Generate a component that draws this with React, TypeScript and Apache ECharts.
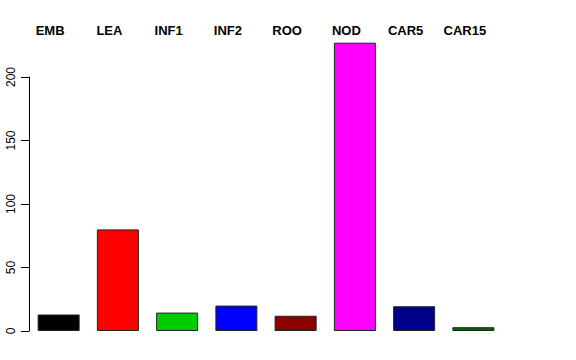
import React, { useEffect, useRef } from "react";
import * as echarts from "echarts";

const categories = ["EMB", "LEA", "INF1", "INF2", "ROO", "NOD", "CAR5", "CAR15"];
const values = [13, 80, 14.5, 20, 12, 227, 19.5, 3];
const colors = ["#000000", "#FF0000", "#00CD00", "#0000FF", "#8B0000", "#FF00FF", "#00008B", "#006400"];
const yTicks = [0, 50, 100, 150, 200];

export default function App() {
  const ref = useRef<HTMLDivElement>(null);
  useEffect(() => {
    if (!ref.current) return;
    const chart = echarts.init(ref.current, null, { renderer: "svg" });
    chart.setOption({
      animation: false,
      backgroundColor: "#ffffff",
      textStyle: { fontFamily: "Liberation Sans, Arial, sans-serif" },
      grid: { left: 29, top: 77, bottom: 29, width: 474, containLabel: false },
      xAxis: {
        type: "category",
        position: "top",
        data: categories,
        axisLine: { show: false },
        axisTick: { show: false },
        axisLabel: {
          color: "#000",
          fontWeight: "bold",
          fontSize: 13,
          margin: 40,
          padding: [0, 17, 0, 0],
          interval: 0,
        },
      },
      yAxis: {
        type: "value",
        min: yTicks[0],
        max: yTicks[yTicks.length - 1],
        interval: 50,
        axisLine: { show: true, lineStyle: { color: "#000", width: 1 } },
        axisTick: { show: true, length: 8, lineStyle: { color: "#000" } },
        splitLine: { show: false },
        axisLabel: { color: "#000", fontSize: 12, rotate: 90, margin: 12 },
      },
      series: [
        {
          type: "bar",
          clip: false,
          barWidth: 42,
          data: values.map((v, i) => ({
            value: v,
            itemStyle: { color: colors[i], borderColor: "#222", borderWidth: 1 },
          })),
        },
      ],
    });
    return () => chart.dispose();
  }, []);
  return <div ref={ref} style={{ width: 576, height: 360, position: "absolute", left: 0, top: 0 }} />;
}
